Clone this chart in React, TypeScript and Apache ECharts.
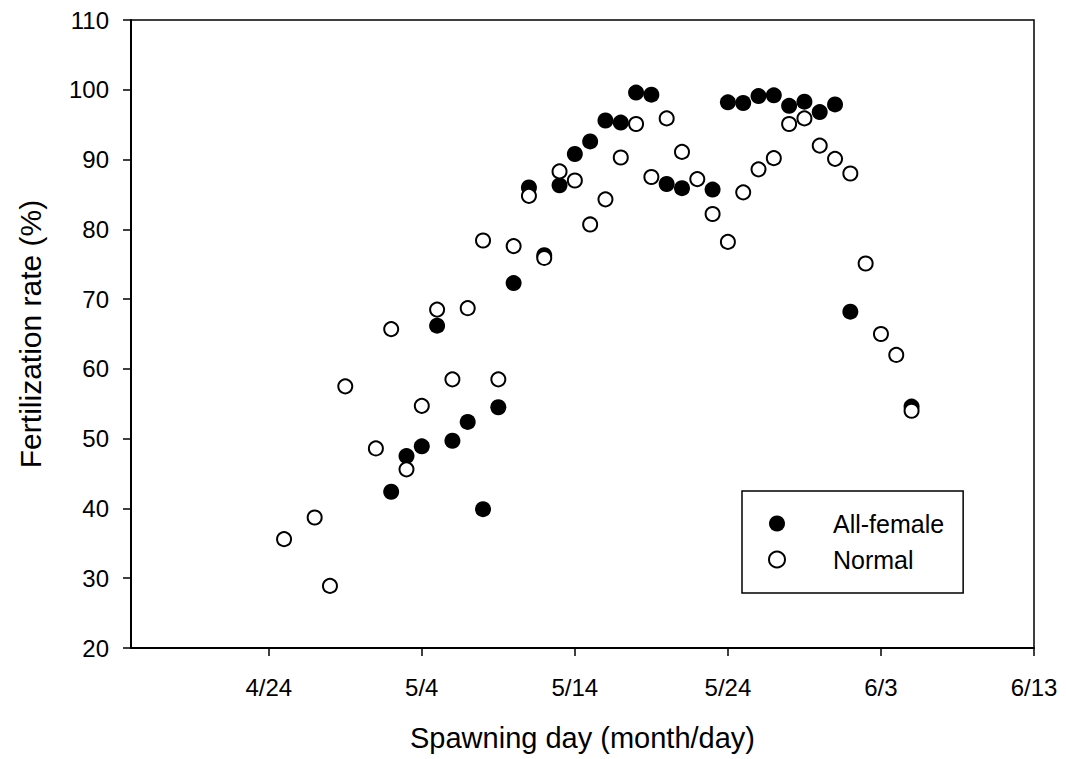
import React, { useEffect, useRef } from "react";
import * as echarts from "echarts";

// ---- Data ----
const tickLabels = ["4/24", "5/4", "5/14", "5/24", "6/3", "6/13"];
const xRangeStart = "4/15";
const xRangeEnd = "6/13";

const allFemaleDates = [
  "5/2", "5/3", "5/4", "5/5", "5/6", "5/7", "5/8", "5/9", "5/10", "5/11",
  "5/12", "5/13", "5/14", "5/15", "5/16", "5/17", "5/18", "5/19", "5/20", "5/21",
  "5/23", "5/24", "5/25", "5/26", "5/27", "5/28", "5/29", "5/30", "5/31", "6/1",
  "6/5",
];
const allFemaleValues = [
  42.4, 47.5, 48.9, 66.2, 49.7, 52.4, 39.9, 54.5, 72.3, 86.0,
  76.3, 86.3, 90.8, 92.6, 95.6, 95.3, 99.6, 99.3, 86.5, 85.9,
  85.7, 98.2, 98.1, 99.1, 99.2, 97.7, 98.3, 96.8, 97.9, 68.2,
  54.6,
];

const normalDates = [
  "4/25", "4/27", "4/28", "4/29", "5/1", "5/2", "5/3", "5/4", "5/5", "5/6",
  "5/7", "5/8", "5/9", "5/10", "5/11", "5/12", "5/13", "5/14", "5/15", "5/16",
  "5/17", "5/18", "5/19", "5/20", "5/21", "5/22", "5/23", "5/24", "5/25", "5/26",
  "5/27", "5/28", "5/29", "5/30", "5/31", "6/1", "6/2", "6/3", "6/4", "6/5",
];
const normalValues = [
  35.6, 38.7, 28.9, 57.5, 48.6, 65.7, 45.6, 54.7, 68.5, 58.5,
  68.7, 78.4, 58.5, 77.6, 84.8, 75.9, 88.3, 87.0, 80.7, 84.3,
  90.3, 95.1, 87.5, 95.9, 91.1, 87.2, 82.2, 78.2, 85.3, 88.6,
  90.2, 95.1, 95.9, 92.0, 90.1, 88.0, 75.1, 65.0, 62.0, 54.0,
];

// day-of-year helper (parses "M/D")
const doy = (s: string): number => {
  const [m, d] = s.split("/").map(Number);
  return Math.round((Date.UTC(2000, m - 1, d) - Date.UTC(2000, 0, 1)) / 86400000);
};

const FONT = "Arial, 'Liberation Sans', sans-serif";

export default function App() {
  const ref = useRef<HTMLDivElement>(null);

  useEffect(() => {
    document.body.style.margin = "0";
    if (!ref.current) return;
    const chart = echarts.init(ref.current, undefined, { renderer: "svg" });
    const tickValues = tickLabels.map(doy);
    const labelFor = (v: number) => {
      const i = tickValues.indexOf(Math.round(v));
      return i >= 0 ? tickLabels[i] : "";
    };

    chart.setOption({
      animation: false,
      backgroundColor: "#fff",
      grid: {
        left: 131,
        top: 20,
        right: 32,
        bottom: 111,
        show: true,
        borderColor: "#000",
        borderWidth: 1.5,
        backgroundColor: "transparent",
      },
      legend: {
        orient: "vertical",
        left: 742,
        top: 491,
        borderColor: "#000",
        borderWidth: 1.5,
        padding: [20, 19, 21, 26],
        itemWidth: 16,
        itemHeight: 16,
        itemGap: 11,
        textStyle: {
          fontFamily: FONT,
          fontSize: 25,
          color: "#000",
          lineHeight: 24,
          padding: [0, 0, 0, 43],
        },
        data: [
          { name: "All-female", icon: "circle" },
          { name: "Normal", icon: "circle" },
        ],
      },
      xAxis: {
        type: "value",
        min: doy(xRangeStart),
        max: doy(xRangeEnd),
        name: "Spawning day (month/day)",
        nameLocation: "middle",
        nameGap: 75,
        nameTextStyle: { fontFamily: FONT, fontSize: 29, color: "#000" },
        axisLine: { show: true, lineStyle: { color: "#000", width: 2 } },
        axisTick: {
          show: true,
          inside: false,
          length: 8,
          customValues: tickValues,
          lineStyle: { color: "#000", width: 1.5 },
        },
        axisLabel: {
          customValues: tickValues,
          formatter: (v: number) => labelFor(v),
          fontFamily: FONT,
          fontSize: 24,
          color: "#000",
          margin: 27,
        },
        splitLine: { show: false },
      },
      yAxis: {
        type: "value",
        min: 20,
        max: 110,
        interval: 10,
        name: "Fertilization rate (%)",
        nameLocation: "middle",
        nameGap: 86,
        nameTextStyle: { fontFamily: FONT, fontSize: 30, color: "#000" },
        axisLine: { show: true, lineStyle: { color: "#000", width: 2 } },
        axisTick: { show: true, inside: false, length: 8, lineStyle: { color: "#000", width: 1.5 } },
        axisLabel: { fontFamily: FONT, fontSize: 24, color: "#000", margin: 22 },
        splitLine: { show: false },
      },
      series: [
        {
          name: "All-female",
          type: "scatter",
          symbol: "circle",
          symbolSize: 16,
          itemStyle: { color: "#000", borderColor: "#000", borderWidth: 0, opacity: 1 },
          data: allFemaleDates.map((d, i) => [doy(d), allFemaleValues[i]]),
          z: 2,
        },
        {
          name: "Normal",
          type: "scatter",
          symbol: "circle",
          symbolSize: 14,
          itemStyle: { color: "#fff", borderColor: "#000", borderWidth: 2, opacity: 1 },
          data: normalDates.map((d, i) => [doy(d), normalValues[i]]),
          z: 3,
        },
      ],
    });

    return () => chart.dispose();
  }, []);

  return <div ref={ref} style={{ width: 1066, height: 759 }} />;
}
